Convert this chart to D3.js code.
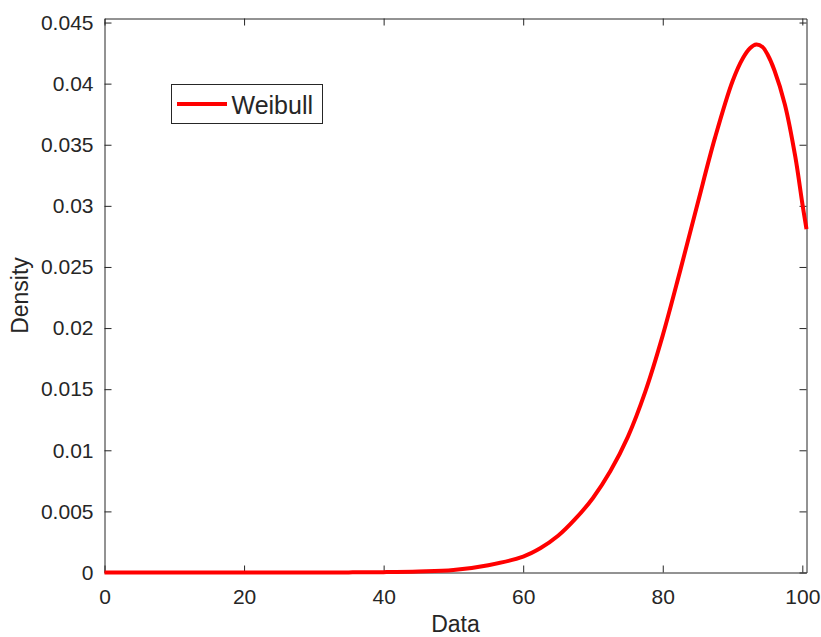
<!DOCTYPE html>
<html>
<head>
<meta charset="utf-8">
<script src="https://cdn.jsdelivr.net/npm/d3@7"></script>
<style>
  html, body { margin: 0; padding: 0; background: #fff; }
  svg { display: block; }
  text { font-family: "Liberation Sans", Arial, Helvetica, sans-serif; fill: #262626; }
</style>
</head>
<body>
<svg id="chart" width="821" height="637"></svg>
<script>
// Weibull density curve values (x = data, y = density)
const dataX = [0, 10, 20, 30, 35, 40, 45, 50, 55, 60, 62.5, 65, 67.5, 70, 72.5, 75, 77.5,
  80, 82.5, 85, 87.5, 90, 91.5, 92.5, 93.4, 94.3, 95, 96, 97.5, 99, 100, 100.6];
const density = [0, 0, 0, 0.000002, 0.00001, 0.00003, 0.00008, 0.0002, 0.0006, 0.0013, 0.0020,
  0.0030, 0.0044, 0.0061, 0.0083, 0.0111, 0.0148, 0.0194, 0.0247, 0.0302, 0.0356, 0.0402,
  0.0421, 0.0429, 0.0432, 0.0430, 0.0424, 0.0411, 0.0383, 0.0340, 0.0302, 0.0281];

// Axis ticks and labels
const xTicks = [0, 20, 40, 60, 80, 100];
const yTicks = [0, 0.005, 0.01, 0.015, 0.02, 0.025, 0.03, 0.035, 0.04, 0.045];
const yTickLabels = ["0", "0.005", "0.01", "0.015", "0.02", "0.025", "0.03", "0.035", "0.04", "0.045"];
const xDomain = [0, 100.6];
const yDomain = [0, 0.04533];
const seriesName = "Weibull";

const svg = d3.select("#chart");
const plotLeft = 104.5, plotRight = 806.5, plotTop = 18.5, plotBottom = 572.5;

const x = d3.scaleLinear().domain(xDomain).range([plotLeft, plotRight]);
const y = d3.scaleLinear().domain(yDomain).range([plotBottom, plotTop]);

const axisColor = "#262626";
const tickLen = 7;

function styleAxis(g) {
  g.selectAll("path.domain").attr("stroke", axisColor).attr("stroke-width", 1);
  g.selectAll(".tick line").attr("stroke", axisColor).attr("stroke-width", 1);
  g.selectAll(".tick text").attr("fill", axisColor)
    .style("font-family", '"Liberation Sans", Arial, sans-serif')
    .style("font-size", "21px");
}

// white plot area
svg.append("rect").attr("x", plotLeft).attr("y", plotTop)
  .attr("width", plotRight - plotLeft).attr("height", plotBottom - plotTop).attr("fill", "#fff");

// bottom axis with labels
svg.append("g").attr("transform", `translate(0,${plotBottom})`)
  .call(d3.axisBottom(x).tickValues(xTicks).tickFormat(d3.format("d"))
    .tickSizeInner(-tickLen).tickSizeOuter(0).tickPadding(16.5))
  .call(styleAxis);

// top axis (ticks only)
svg.append("g").attr("transform", `translate(0,${plotTop})`)
  .call(d3.axisTop(x).tickValues(xTicks).tickFormat("")
    .tickSizeInner(-tickLen).tickSizeOuter(0))
  .call(styleAxis);

// left axis with labels
svg.append("g").attr("transform", `translate(${plotLeft},0)`)
  .call(d3.axisLeft(y).tickValues(yTicks).tickFormat((d, i) => yTickLabels[i])
    .tickSizeInner(-tickLen).tickSizeOuter(0).tickPadding(11))
  .call(styleAxis);

// right axis (ticks only)
svg.append("g").attr("transform", `translate(${plotRight},0)`)
  .call(d3.axisRight(y).tickValues(yTicks).tickFormat("")
    .tickSizeInner(-tickLen).tickSizeOuter(0))
  .call(styleAxis);

// axis titles
svg.append("text").attr("x", (plotLeft + plotRight) / 2).attr("y", 632)
  .attr("text-anchor", "middle").style("font-size", "23px").text("Data");
svg.append("text")
  .attr("transform", `translate(28,${(plotTop + plotBottom) / 2}) rotate(-90)`)
  .attr("text-anchor", "middle").style("font-size", "23px").text("Density");

// density curve
const points = dataX.map((d, i) => [d, density[i]]);
svg.append("path")
  .datum(points)
  .attr("fill", "none")
  .attr("stroke", "#ff0000")
  .attr("stroke-width", 4)
  .attr("stroke-linejoin", "round")
  .attr("d", d3.line().x(d => x(d[0])).y(d => y(d[1])).curve(d3.curveCatmullRom.alpha(0.5)));

// legend
const lg = svg.append("g");
lg.append("rect").attr("x", 171.5).attr("y", 84.5).attr("width", 151).attr("height", 39)
  .attr("fill", "#fff").attr("stroke", axisColor).attr("stroke-width", 1);
lg.append("line").attr("x1", 177).attr("x2", 227).attr("y1", 104).attr("y2", 104)
  .attr("stroke", "#ff0000").attr("stroke-width", 4);
lg.append("text").attr("x", 231.5).attr("y", 114).style("font-size", "25px").text(seriesName);
</script>
</body>
</html>
